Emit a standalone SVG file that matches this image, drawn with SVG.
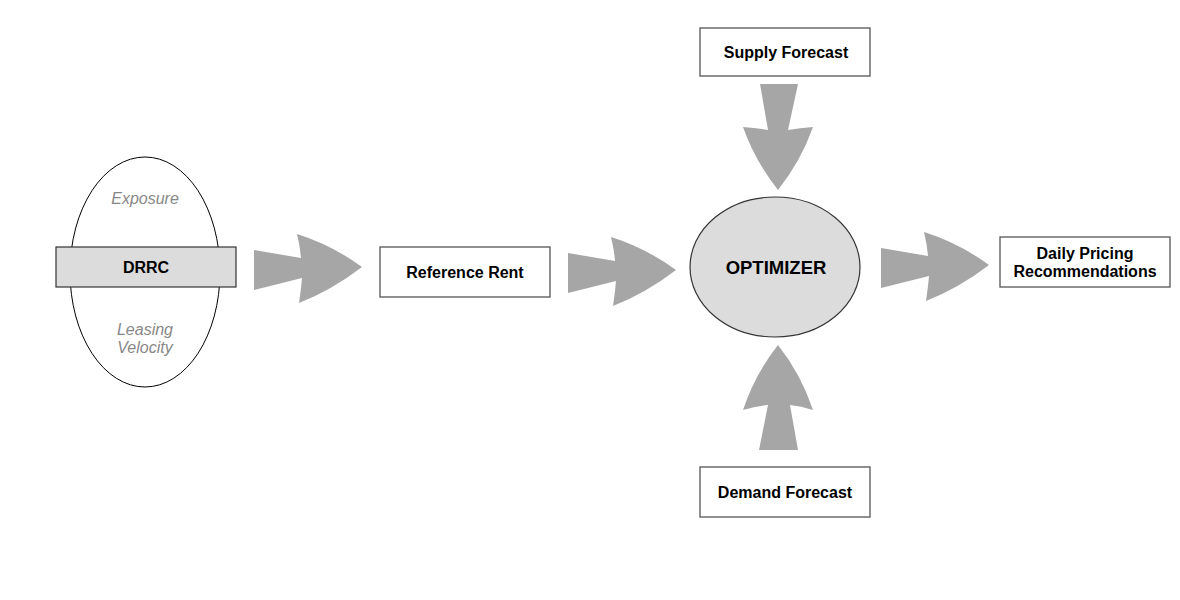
<svg xmlns="http://www.w3.org/2000/svg" width="1180" height="600" viewBox="0 0 1180 600">
<style>
.box{fill:#fff;stroke:#555;stroke-width:1.3}
.grey{fill:#dcdcdc;stroke:#333;stroke-width:1.2}
.lbl{font-family:"Liberation Sans",Arial,sans-serif;font-size:16px;font-weight:bold;fill:#000;text-anchor:middle}
.it{font-family:"Liberation Sans",Arial,sans-serif;font-size:16px;font-style:italic;fill:#888;text-anchor:middle}
.arr{fill:#a6a6a6}
</style>
<defs>
<path id="rarrow" d="M0,0 L47,8 Q46,-4 43,-16 Q78,-5 108,17 Q78,40 45,53 Q47,40 48,28 L0,40 Z"/>
</defs>
<rect width="1180" height="600" fill="#fff"/>
<g id="connectors">
<use href="#rarrow" class="arr" x="254" y="250"/>
<use href="#rarrow" class="arr" x="568" y="253"/>
<use href="#rarrow" class="arr" x="881" y="248"/>
<path class="arr" d="M760,84 L798,84 L788,130 Q800,128 813,127 Q801,161 778,190 Q755,161 743,127 Q756,128 768,130 Z"/>
<path class="arr" d="M759,450 L798,450 L790,405 Q801,406 813,410 Q801,374 778,345 Q755,374 743,410 Q756,406 768,405 Z"/>
</g>
<g id="drrc">
<ellipse cx="145" cy="272" rx="75" ry="115" fill="#fff" stroke="#000" stroke-width="1"/>
<text class="it" x="145" y="204">Exposure</text>
<text class="it" x="145" y="335">Leasing</text>
<text class="it" x="145" y="353">Velocity</text>
<rect class="grey" x="56" y="247" width="180" height="40"/>
<text class="lbl" x="146" y="273">DRRC</text>
</g>
<g id="reference-rent">
<rect class="box" x="380" y="247" width="170" height="50"/>
<text class="lbl" x="465" y="278">Reference Rent</text>
</g>
<g id="optimizer">
<ellipse class="grey" cx="775" cy="267" rx="85" ry="70"/>
<text class="lbl" x="776" y="274" style="font-size:18.5px">OPTIMIZER</text>
</g>
<g id="supply-forecast">
<rect class="box" x="700" y="28" width="170" height="48"/>
<text class="lbl" x="786" y="58">Supply Forecast</text>
</g>
<g id="demand-forecast">
<rect class="box" x="700" y="467" width="170" height="50"/>
<text class="lbl" x="785" y="498">Demand Forecast</text>
</g>
<g id="daily-pricing">
<rect class="box" x="1000" y="237" width="170" height="50"/>
<text class="lbl" x="1085" y="259">Daily Pricing</text>
<text class="lbl" x="1085" y="277">Recommendations</text>
</g>
</svg>
